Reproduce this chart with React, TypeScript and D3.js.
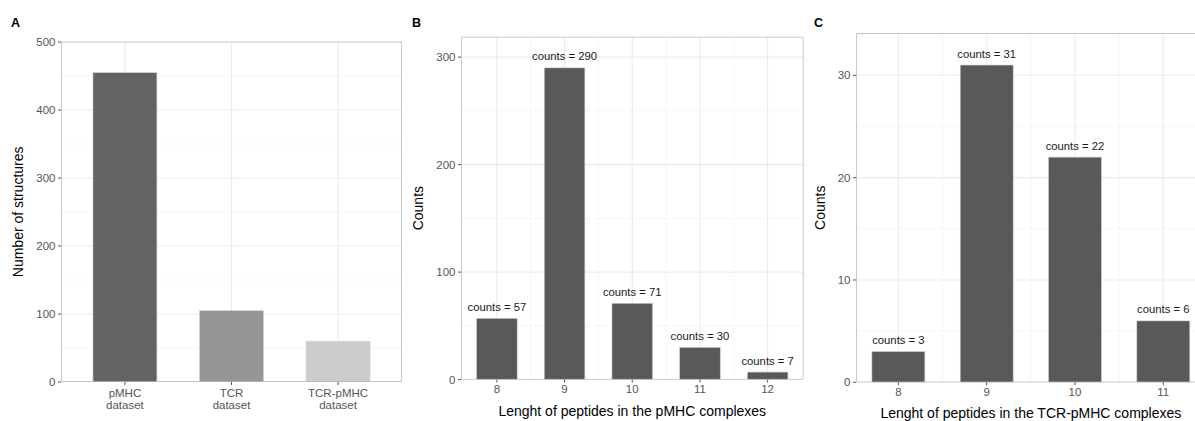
import React from "react";
import * as d3 from "d3";

const datasetCats = ["pMHC\ndataset", "TCR\ndataset", "TCR-pMHC\ndataset"];
const datasetValues = [455, 105, 60];
const datasetColors = ["#636363", "#969696", "#cccccc"];
const datasetTicks = [0, 100, 200, 300, 400, 500];

const pmhcLengths = [8, 9, 10, 11, 12];
const pmhcCounts = [57, 290, 71, 30, 7];
const pmhcTicks = [0, 100, 200, 300];

const tcrLengths = [8, 9, 10, 11];
const tcrCounts = [3, 31, 22, 6];
const tcrTicks = [0, 10, 20, 30];

const FONT = "'Liberation Sans', Arial, Helvetica, sans-serif";
const TICK_COL = "#555555";
const GRID_MAJ = "#ebebeb";
const GRID_MIN = "#f4f4f4";
const BORDER = "#b3b3b3";

type PanelProps = {
  letter: string;
  letterX: number;
  left: number;
  right: number;
  top: number;
  bottom: number;
  xDomain: [number, number];
  xPositions: number[];
  xLabels: string[];
  xMinor: number[];
  values: number[];
  colors: string[];
  yTicks: number[];
  yTitle: string;
  yTitleX: number;
  xTitle?: string;
  showCounts: boolean;
  clipId: string;
};

function Panel(p: PanelProps) {
  const x = d3.scaleLinear().domain(p.xDomain).range([p.left, p.right]);
  const yMax = (d3.max(p.values) as number) * 1.1;
  const y = d3.scaleLinear().domain([0, yMax]).range([p.bottom, p.top]);
  const yMinor: number[] = [];
  for (let i = 0; i < p.yTicks.length; i++) {
    const a = p.yTicks[i];
    const step = p.yTicks[1] - p.yTicks[0];
    const m = a + step / 2;
    if (m < yMax) yMinor.push(m);
  }
  const bw = 0.6;
  const midY = (p.top + p.bottom) / 2;
  return (
    <g>
      <defs>
        <clipPath id={p.clipId}>
          <rect x={p.left} y={p.top} width={p.right - p.left} height={p.bottom - p.top} />
        </clipPath>
      </defs>
      <text x={p.letterX} y={27} fontWeight="bold" fontSize={12.5} fill="#000" fontFamily={FONT}>
        {p.letter}
      </text>
      <g clipPath={`url(#${p.clipId})`}>
        <rect x={p.left} y={p.top} width={p.right - p.left} height={p.bottom - p.top} fill="#fff" />
        {yMinor.map((v) => (
          <line key={"ym" + v} x1={p.left} x2={p.right} y1={y(v)} y2={y(v)} stroke={GRID_MIN} strokeWidth={0.8} />
        ))}
        {p.xMinor.map((v) => (
          <line key={"xm" + v} y1={p.top} y2={p.bottom} x1={x(v)} x2={x(v)} stroke={GRID_MIN} strokeWidth={0.8} />
        ))}
        {p.yTicks.map((v) => (
          <line key={"yg" + v} x1={p.left} x2={p.right} y1={y(v)} y2={y(v)} stroke={GRID_MAJ} strokeWidth={1.1} />
        ))}
        {p.xPositions.map((v) => (
          <line key={"xg" + v} y1={p.top} y2={p.bottom} x1={x(v)} x2={x(v)} stroke={GRID_MAJ} strokeWidth={1.1} />
        ))}
        {p.values.map((v, i) => (
          <rect
            key={"b" + i}
            x={x(p.xPositions[i] - bw / 2)}
            y={y(v)}
            width={x(p.xPositions[i] + bw / 2) - x(p.xPositions[i] - bw / 2)}
            height={y(0) - y(v)}
            fill={p.colors[i % p.colors.length]}
            stroke="#d0d0d0"
            strokeWidth={0.6}
          />
        ))}
        <rect x={p.left} y={p.top} width={p.right - p.left} height={p.bottom - p.top} fill="none" stroke={BORDER} strokeWidth={1.4} />
      </g>
      {p.showCounts &&
        p.values.map((v, i) => (
          <text
            key={"c" + i}
            x={x(p.xPositions[i])}
            y={y(v) - 7.5}
            textAnchor="middle"
            fontSize={11.3}
            fill="#1a1a1a"
            fontFamily={FONT}
          >
            {"counts = " + v}
          </text>
        ))}
      {p.yTicks.map((v) => (
        <g key={"yt" + v}>
          <line x1={p.left - 3} x2={p.left} y1={y(v)} y2={y(v)} stroke="#555" strokeWidth={1} />
          <text x={p.left - 5.5} y={y(v) + 4} textAnchor="end" fontSize={11.5} fill={TICK_COL} fontFamily={FONT}>
            {v}
          </text>
        </g>
      ))}
      {p.xPositions.map((v, i) => {
        const lines = p.xLabels[i].split("\n");
        return (
          <g key={"xt" + v}>
            <line y1={p.bottom} y2={p.bottom + 3} x1={x(v)} x2={x(v)} stroke="#555" strokeWidth={1} />
            {lines.map((l, j) => (
              <text
                key={j}
                x={x(v)}
                y={p.bottom + (lines.length > 1 ? 14.5 : 13.5) + j * 12.3}
                textAnchor="middle"
                fontSize={11.5}
                fill={TICK_COL}
                fontFamily={FONT}
              >
                {l}
              </text>
            ))}
          </g>
        );
      })}
      <text
        transform={`translate(${p.yTitleX},${midY}) rotate(-90)`}
        textAnchor="middle"
        fontSize={14}
        fill="#000"
        fontFamily={FONT}
      >
        {p.yTitle}
      </text>
      {p.xTitle && (
        <text x={(p.left + p.right) / 2} y={p.bottom + 36} textAnchor="middle" fontSize={14} fill="#000" fontFamily={FONT}>
          {p.xTitle}
        </text>
      )}
    </g>
  );
}

export default function App() {
  const aPos = datasetCats.map((_, i) => i + 1);
  const bExt = d3.extent(pmhcLengths) as [number, number];
  const bPad = (bExt[1] - bExt[0] + 0.6) * 0.05 + 0.3;
  const cExt = d3.extent(tcrLengths) as [number, number];
  const cPad = (cExt[1] - cExt[0] + 0.6) * 0.05 + 0.3;
  const halves = (arr: number[]) => arr.slice(0, -1).map((v) => v + 0.5);
  return (
    <svg
      width={1195}
      height={421}
      style={{ position: "absolute", left: 0, top: 0, background: "#fff" }}
      fontFamily={FONT}
    >
      <rect x={0} y={0} width={1195} height={421} fill="#fff" />
      <Panel
        letter="A"
        letterX={11}
        left={61}
        right={402}
        top={41.7}
        bottom={382}
        xDomain={[0.4, datasetCats.length + 0.6]}
        xPositions={aPos}
        xLabels={datasetCats}
        xMinor={[]}
        values={datasetValues}
        colors={datasetColors}
        yTicks={datasetTicks}
        yTitle="Number of structures"
        yTitleX={22.8}
        showCounts={false}
        clipId="clipA"
      />
      <Panel
        letter="B"
        letterX={412}
        left={461}
        right={803.5}
        top={36.7}
        bottom={379.6}
        xDomain={[bExt[0] - bPad, bExt[1] + bPad]}
        xPositions={pmhcLengths}
        xLabels={pmhcLengths.map(String)}
        xMinor={halves(pmhcLengths)}
        values={pmhcCounts}
        colors={["#595959"]}
        yTicks={pmhcTicks}
        yTitle="Counts"
        yTitleX={422.8}
        xTitle="Lenght of peptides in the pMHC complexes"
        showCounts={true}
        clipId="clipB"
      />
      <Panel
        letter="C"
        letterX={814}
        left={856}
        right={1205.7}
        top={33.3}
        bottom={382.3}
        xDomain={[cExt[0] - cPad, cExt[1] + cPad]}
        xPositions={tcrLengths}
        xLabels={tcrLengths.map(String)}
        xMinor={halves(tcrLengths)}
        values={tcrCounts}
        colors={["#595959"]}
        yTicks={tcrTicks}
        yTitle="Counts"
        yTitleX={824.8}
        xTitle="Lenght of peptides in the TCR-pMHC complexes"
        showCounts={true}
        clipId="clipC"
      />
    </svg>
  );
}
